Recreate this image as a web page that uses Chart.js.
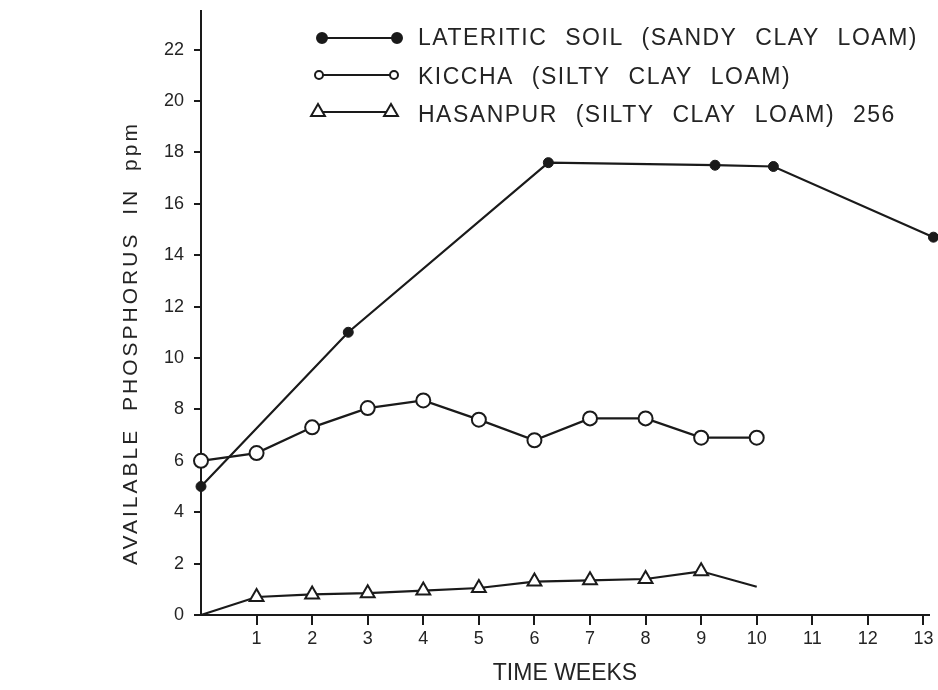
<!DOCTYPE html>
<html>
<head>
<meta charset="utf-8">
<script src="https://cdn.jsdelivr.net/npm/chart.js@4.4.1/dist/chart.umd.min.js"></script>
<style>
  html, body { margin: 0; padding: 0; background: #ffffff; }
  #wrap { width: 938px; height: 690px; }
</style>
</head>
<body>
<div id="wrap"><canvas id="phosphorusChart" width="938" height="690"></canvas></div>
<script>
// data
const weeks = [0, 1, 2, 3, 4, 5, 6, 7, 8, 9, 10];
const lateriticWeeks = [0, 2.65, 6.25, 9.25, 10.3, 13.18];
const lateriticP = [5.0, 11.0, 17.6, 17.5, 17.45, 14.7];
const kicchaP = [6.0, 6.3, 7.3, 8.05, 8.35, 7.6, 6.8, 7.65, 7.65, 6.9, 6.9];
const hasanpurP = [0, 0.7, 0.8, 0.85, 0.95, 1.05, 1.3, 1.35, 1.4, 1.7, 1.1];
const xTicks = [1, 2, 3, 4, 5, 6, 7, 8, 9, 10, 11, 12, 13];
const yTicks = [0, 2, 4, 6, 8, 10, 12, 14, 16, 18, 20, 22];
const seriesNames = [
    'LATERITIC SOIL (SANDY CLAY LOAM)',
    'KICCHA (SILTY CLAY LOAM)',
    'HASANPUR (SILTY CLAY LOAM) 256'
];
const yTitle = 'AVAILABLE PHOSPHORUS IN ppm';
const xTitle = 'TIME WEEKS';

const ink = '#1a1a1a';
const textInk = '#242424';
const fontFamily = '"Liberation Sans", Arial, Helvetica, sans-serif';

function toPoints(xs, ys) {
    return xs.map((x, i) => ({ x: x, y: ys[i] }));
}

function drawMarker(ctx, style, x, y, r) {
    ctx.beginPath();
    if (style === 'triangle') {
        ctx.moveTo(x, y - r);
        ctx.lineTo(x - r * 0.866, y + r * 0.5);
        ctx.lineTo(x + r * 0.866, y + r * 0.5);
        ctx.closePath();
    } else {
        ctx.arc(x, y, r, 0, Math.PI * 2);
    }
    ctx.fill();
    ctx.stroke();
}

// legend (marker - line - marker) and rotated y title
const soilLegend = {
    id: 'soilLegend',
    afterDraw(chart) {
        const ctx = chart.ctx;
        const rows = [
            { y: 38, base: 45, x1: 322, x2: 397, style: 'circle', r: 5, fill: ink },
            { y: 75, base: 84, x1: 319, x2: 394, style: 'circle', r: 4, fill: '#ffffff' },
            { y: 112, base: 122, x1: 318, x2: 391, style: 'triangle', r: 8, fill: '#ffffff' }
        ];
        ctx.save();
        ctx.strokeStyle = ink;
        ctx.lineWidth = 2;
        rows.forEach((row, i) => {
            ctx.beginPath();
            ctx.moveTo(row.x1, row.y);
            ctx.lineTo(row.x2, row.y);
            ctx.stroke();
            ctx.fillStyle = row.fill;
            drawMarker(ctx, row.style, row.x1, row.y, row.r);
            drawMarker(ctx, row.style, row.x2, row.y, row.r);
            ctx.fillStyle = textInk;
            ctx.font = '23px ' + fontFamily;
            ctx.letterSpacing = '1.5px';
            ctx.wordSpacing = '10px';
            ctx.textAlign = 'left';
            ctx.textBaseline = 'alphabetic';
            ctx.fillText(seriesNames[i], 418, row.base);
        });
        ctx.translate(131, 343);
        ctx.rotate(-Math.PI / 2);
        ctx.font = '21px ' + fontFamily;
        ctx.letterSpacing = '3px';
        ctx.wordSpacing = '8px';
        ctx.textAlign = 'center';
        ctx.textBaseline = 'middle';
        ctx.fillStyle = textInk;
        ctx.fillText(yTitle, 0, 0);
        ctx.restore();
    }
};

const ctx = document.getElementById('phosphorusChart').getContext('2d');
new Chart(ctx, {
    type: 'line',
    data: {
        datasets: [
            {
                label: seriesNames[0],
                data: toPoints(lateriticWeeks, lateriticP),
                borderColor: ink,
                borderWidth: 2.2,
                pointStyle: 'circle',
                pointRadius: 5,
                pointBackgroundColor: ink,
                pointBorderColor: ink,
                pointBorderWidth: 1,
                clip: false
            },
            {
                label: seriesNames[1],
                data: toPoints(weeks, kicchaP),
                borderColor: ink,
                borderWidth: 2.2,
                pointStyle: 'circle',
                pointRadius: 7,
                pointBackgroundColor: '#ffffff',
                pointBorderColor: ink,
                pointBorderWidth: 2,
                clip: false
            },
            {
                label: seriesNames[2],
                data: toPoints(weeks, hasanpurP),
                borderColor: ink,
                borderWidth: 2.2,
                pointStyle: 'triangle',
                // first and last points are plain line ends
                pointRadius: [0, 8, 8, 8, 8, 8, 8, 8, 8, 8, 0],
                pointBackgroundColor: '#ffffff',
                pointBorderColor: ink,
                pointBorderWidth: 2,
                clip: false
            }
        ]
    },
    options: {
        responsive: false,
        animation: false,
        layout: { padding: { top: 11, right: 1, left: 0, bottom: 0 } },
        plugins: {
            legend: { display: false },
            tooltip: { enabled: false }
        },
        scales: {
            x: {
                type: 'linear',
                min: 0,
                max: 13.1,
                afterBuildTicks: (axis) => { axis.ticks = xTicks.map(v => ({ value: v })); },
                afterFit: (scale) => {
                    scale.height = 75;
                    scale.paddingLeft = 0;
                    scale.paddingRight = 0;
                },
                grid: {
                    drawOnChartArea: false,
                    drawTicks: true,
                    tickLength: 10,
                    color: ink,
                    lineWidth: 2
                },
                border: { display: true, color: ink, width: 2 },
                ticks: {
                    color: textInk,
                    padding: 3,
                    maxRotation: 0,
                    autoSkip: false,
                    font: { family: fontFamily, size: 18 }
                },
                title: {
                    display: true,
                    text: xTitle,
                    color: textInk,
                    padding: { top: 0, bottom: 3 },
                    font: { family: fontFamily, size: 23 }
                }
            },
            y: {
                type: 'linear',
                min: 0,
                max: 23.5,
                afterBuildTicks: (axis) => { axis.ticks = yTicks.map(v => ({ value: v })); },
                afterFit: (scale) => {
                    scale.width = 201;
                    scale.paddingTop = 0;
                    scale.paddingBottom = 0;
                },
                grid: {
                    drawOnChartArea: false,
                    drawTicks: true,
                    tickLength: 7,
                    color: ink,
                    lineWidth: 2
                },
                border: { display: true, color: ink, width: 2 },
                ticks: {
                    color: textInk,
                    padding: 10,
                    autoSkip: false,
                    font: { family: fontFamily, size: 18 }
                },
                title: { display: false }
            }
        }
    },
    plugins: [soilLegend]
});
</script>
</body>
</html>
